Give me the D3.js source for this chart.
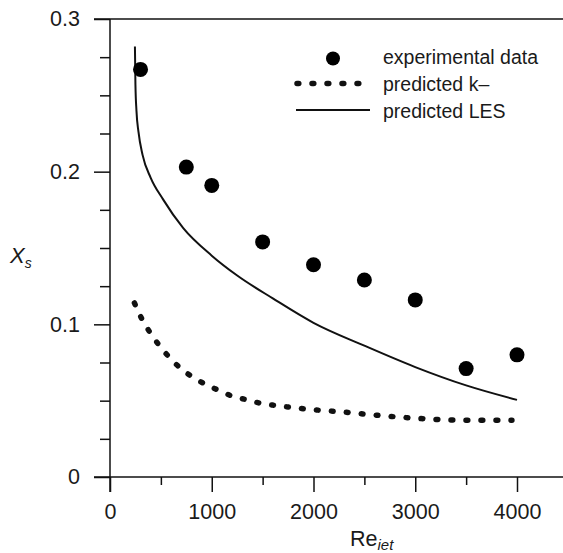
<!DOCTYPE html>
<html><head><meta charset="utf-8">
<script src="https://cdn.jsdelivr.net/npm/d3@7"></script>
<style>
html,body{margin:0;padding:0;background:#fff;}
svg{display:block;font-family:"Liberation Sans",Arial,sans-serif;}
</style></head>
<body><svg id="chart" width="563" height="553"></svg>
<script>
// Experimental data
const expRe = [300, 750, 1000, 1500, 2000, 2500, 3000, 3500, 4000];
const expXs = [0.267, 0.203, 0.191, 0.154, 0.139, 0.129, 0.116, 0.071, 0.080];
// predicted k–ε
const keRe = [240, 310, 390, 475, 575, 680, 800, 930, 1060, 1200, 1350, 1500, 1650, 1800, 1950, 2100, 2250, 2500, 3000, 3500, 3950];
const keXs = [0.114, 0.104, 0.095, 0.087, 0.079, 0.072, 0.066, 0.061, 0.057, 0.053, 0.0505, 0.048, 0.0467, 0.0454, 0.0444, 0.0435, 0.0428, 0.0412, 0.0385, 0.0372, 0.0372];
// predicted LES
const lesRe = [245, 250, 260, 280, 320, 400, 520, 720, 1000, 1250, 1600, 2000, 2500, 3000, 3500, 4000];
const lesXs = [0.282, 0.257, 0.240, 0.226, 0.211, 0.196, 0.182, 0.163, 0.145, 0.132, 0.117, 0.101, 0.086, 0.072, 0.060, 0.0505];
// ticks
const xTicks = [0, 1000, 2000, 3000, 4000];
const yTicks = [0, 0.1, 0.2, 0.3];
const yTickLabels = ["0", "0.1", "0.2", "0.3"];
const legendLabels = ["experimental data", "predicted k\u2013", "predicted LES"];

const svg = d3.select("#chart");
const x = d3.scaleLinear().domain([0, 4000]).range([110, 517]);
const y = d3.scaleLinear().domain([0, 0.3]).range([477, 19]);
const ink = "#111";

// axes frame lines
svg.append("line").attr("x1", 94).attr("x2", 563).attr("y1", y(0.3)).attr("y2", y(0.3)).attr("stroke", ink).attr("stroke-width", 1.5);
svg.append("line").attr("x1", 94).attr("x2", 563).attr("y1", y(0)).attr("y2", y(0)).attr("stroke", ink).attr("stroke-width", 1.5);
svg.append("line").attr("x1", x(0)).attr("x2", x(0)).attr("y1", y(0.3)).attr("y2", y(0) + 15).attr("stroke", ink).attr("stroke-width", 1.5);

// Y axis major
const yAx = svg.append("g").attr("transform", `translate(${x(0)},0)`)
  .call(d3.axisLeft(y).tickValues(yTicks).tickSize(16).tickSizeOuter(0).tickPadding(14)
    .tickFormat((d, i) => yTickLabels[i]));
yAx.select(".domain").remove();
yAx.selectAll("line").attr("stroke", ink).attr("stroke-width", 1.5);
yAx.selectAll("text").attr("font-size", "21.5px").attr("fill", "#1a1a1a").attr("font-family", "Liberation Sans, Arial, sans-serif");
// Y minor
const yMinor = d3.range(0.025, 0.3, 0.025).filter(v => Math.abs(v * 10 - Math.round(v * 10)) > 1e-6);
const yAxm = svg.append("g").attr("transform", `translate(${x(0)},0)`)
  .call(d3.axisLeft(y).tickValues(yMinor).tickSize(10).tickSizeOuter(0).tickFormat(""));
yAxm.select(".domain").remove();
yAxm.selectAll("line").attr("stroke", ink).attr("stroke-width", 1.5);

// X axis major
const xAx = svg.append("g").attr("transform", `translate(0,${y(0)})`)
  .call(d3.axisBottom(x).tickValues(xTicks).tickSize(15).tickSizeOuter(0).tickPadding(12).tickFormat(d3.format("d")));
xAx.select(".domain").remove();
xAx.selectAll("line").attr("stroke", ink).attr("stroke-width", 1.5);
xAx.selectAll("text").attr("font-size", "21.5px").attr("fill", "#1a1a1a").attr("font-family", "Liberation Sans, Arial, sans-serif");
// X minor
const xAxm = svg.append("g").attr("transform", `translate(0,${y(0)})`)
  .call(d3.axisBottom(x).tickValues([500, 1500, 2500, 3500]).tickSize(8).tickSizeOuter(0).tickFormat(""));
xAxm.select(".domain").remove();
xAxm.selectAll("line").attr("stroke", ink).attr("stroke-width", 1.5);

// LES line
const lesLine = d3.line().x(d => x(d[0])).y(d => y(d[1])).curve(d3.curveMonotoneX);
svg.append("path").datum(d3.zip(lesRe, lesXs)).attr("d", lesLine)
  .attr("fill", "none").attr("stroke", ink).attr("stroke-width", 2);

// k-e dotted line
const keLine = d3.line().x(d => x(d[0])).y(d => y(d[1])).curve(d3.curveMonotoneX);
svg.append("path").datum(d3.zip(keRe, keXs)).attr("d", keLine)
  .attr("fill", "none").attr("stroke", ink).attr("stroke-width", 5.5)
  .attr("stroke-linecap", "round").attr("stroke-dasharray", "1.8,13.2");

// experimental points
svg.append("g").selectAll("circle").data(d3.zip(expRe, expXs)).join("circle")
  .attr("cx", d => x(d[0])).attr("cy", d => y(d[1])).attr("r", 7.5).attr("fill", "#000");

// legend
const lg = svg.append("g");
lg.append("circle").attr("cx", 333).attr("cy", 58.5).attr("r", 7).attr("fill", "#000");
lg.append("line").attr("x1", 297).attr("x2", 362).attr("y1", 83.5).attr("y2", 83.5)
  .attr("stroke", ink).attr("stroke-width", 5.5).attr("stroke-linecap", "round").attr("stroke-dasharray", "1.8,13.2");
lg.append("line").attr("x1", 296).attr("x2", 370).attr("y1", 110).attr("y2", 110)
  .attr("stroke", ink).attr("stroke-width", 1.8);
lg.selectAll("text").data(legendLabels).join("text")
  .attr("x", 383).attr("y", (d, i) => 63.5 + i * 27)
  .attr("font-size", "19.5px").attr("fill", "#1a1a1a").text(d => d);

// axis titles
const yl = svg.append("text").attr("x", 10).attr("y", 263).attr("fill", "#1a1a1a");
yl.append("tspan").attr("font-size", "22px").attr("font-style", "italic").text("X");
yl.append("tspan").attr("font-size", "14px").attr("font-style", "italic").attr("dy", 5).text("s");

const xl = svg.append("text").attr("x", 350).attr("y", 546).attr("fill", "#1a1a1a");
xl.append("tspan").attr("font-size", "21.5px").text("Re");
xl.append("tspan").attr("font-size", "15px").attr("font-style", "italic").attr("dy", 3.5).text("iet");
</script></body></html>
